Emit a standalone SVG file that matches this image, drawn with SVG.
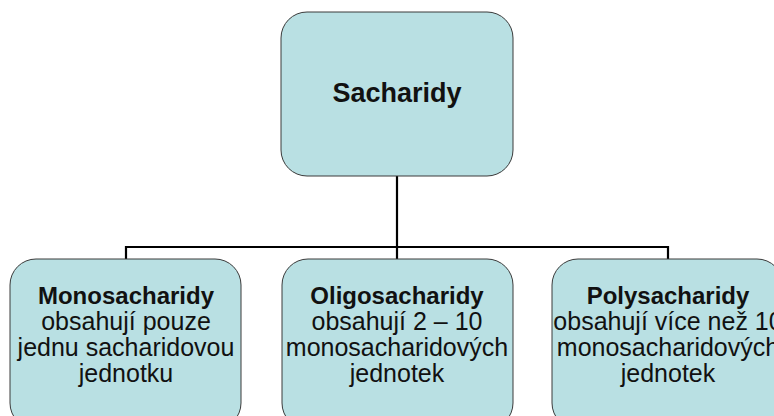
<svg xmlns="http://www.w3.org/2000/svg" width="774" height="416" viewBox="0 0 774 416">
<style>
.box{fill:#b9e0e3;stroke:#3a3a3a;stroke-width:1}
.conn{stroke:#000;stroke-width:2.2;fill:none}
text{font-family:"Liberation Sans",Arial,sans-serif;fill:#111;text-anchor:middle}
.b{font-weight:bold;font-size:24px}
.r{font-size:25px}
.t{font-weight:bold;font-size:27px}
</style>
<rect width="774" height="416" fill="#fff"/>
<g id="connectors">
<path class="conn" d="M397,176 V259 M126,259 V247 H668 V259"/>
</g>
<g id="sacharidy">
<rect class="box" x="281" y="12" width="232" height="164" rx="26"/>
<text class="t" x="397" y="102">Sacharidy</text>
</g>
<g id="monosacharidy">
<rect class="box" x="10" y="259" width="231" height="170" rx="26"/>
<text class="b" x="126" y="304">Monosacharidy</text>
<text class="r" x="126" y="330">obsahují pouze</text>
<text class="r" x="126" y="356">jednu sacharidovou</text>
<text class="r" x="126" y="382">jednotku</text>
</g>
<g id="oligosacharidy">
<rect class="box" x="282" y="259" width="231" height="170" rx="26"/>
<text class="b" x="397" y="304">Oligosacharidy</text>
<text class="r" x="397" y="330">obsahují 2 – 10</text>
<text class="r" x="397" y="356">monosacharidových</text>
<text class="r" x="397" y="382">jednotek</text>
</g>
<g id="polysacharidy">
<rect class="box" x="552" y="259" width="231" height="170" rx="26"/>
<text class="b" x="668" y="304">Polysacharidy</text>
<text class="r" x="668" y="330">obsahují více než 10</text>
<text class="r" x="668" y="356">monosacharidových</text>
<text class="r" x="668" y="382">jednotek</text>
</g>
</svg>
